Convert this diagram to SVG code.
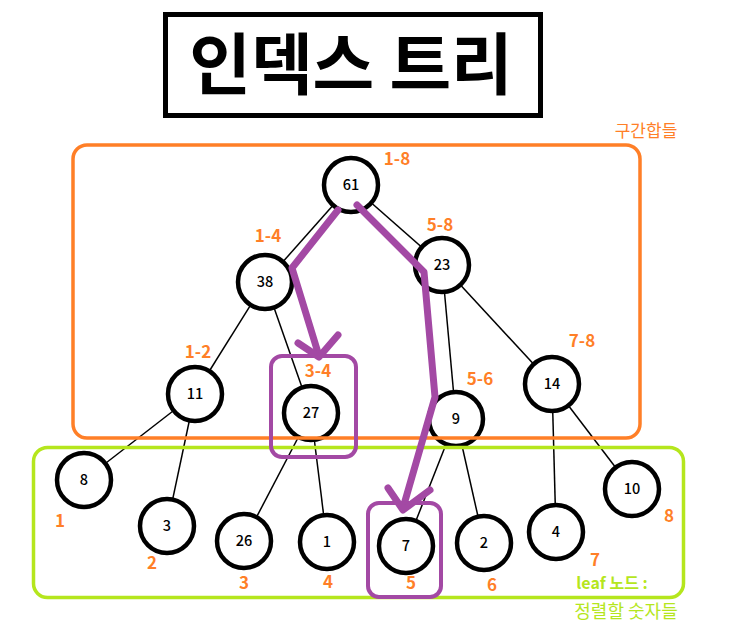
<svg xmlns="http://www.w3.org/2000/svg" width="745" height="644" viewBox="0 0 745 644">
<style>
  .node circle { fill: #fff; stroke: #000; stroke-width: 4.5; }
  .node text { font-family: "Noto Sans CJK KR", "Noto Sans", sans-serif; font-size: 14.5px; font-weight: 500; text-anchor: middle; fill: #000; }
  .edge { stroke: #000; stroke-width: 1.5; fill: none; }
  .lbl { font-family: "Noto Sans CJK KR", "Noto Sans", sans-serif; font-size: 17px; font-weight: bold; fill: #FF7F27; text-anchor: middle; }
  .hl { stroke: #A349A4; stroke-width: 7; fill: none; stroke-linecap: round; stroke-linejoin: round; }
  .hlbox { stroke: #A349A4; stroke-width: 4; fill: none; }
</style>
<rect width="745" height="644" fill="#fff"/>

<g id="title">
  <rect x="165.5" y="14.5" width="375" height="101" fill="#fff" stroke="#000" stroke-width="5"/>
  <text x="351" y="89" font-family="Noto Sans CJK KR, sans-serif" font-size="67" font-weight="bold" text-anchor="middle">인덱스 트리</text>
</g>

<g id="connectors">
  <line class="edge" x1="351" y1="185" x2="265" y2="282"/>
  <line class="edge" x1="351" y1="185" x2="442" y2="265"/>
  <line class="edge" x1="265" y1="282" x2="195" y2="394"/>
  <line class="edge" x1="265" y1="282" x2="311" y2="413"/>
  <line class="edge" x1="442" y1="265" x2="456" y2="419"/>
  <line class="edge" x1="442" y1="265" x2="552" y2="384"/>
  <line class="edge" x1="195" y1="394" x2="84" y2="480"/>
  <line class="edge" x1="195" y1="394" x2="167" y2="526"/>
  <line class="edge" x1="311" y1="413" x2="244" y2="541"/>
  <line class="edge" x1="311" y1="413" x2="327" y2="542"/>
  <line class="edge" x1="456" y1="419" x2="406" y2="546"/>
  <line class="edge" x1="456" y1="419" x2="484" y2="543"/>
  <line class="edge" x1="552" y1="384" x2="556" y2="532"/>
  <line class="edge" x1="552" y1="384" x2="632" y2="489"/>
</g>

<g id="n61" class="node"><circle cx="351" cy="185" r="27"/><text x="351" y="190">61</text></g>
<g id="n38" class="node"><circle cx="265" cy="282" r="27"/><text x="265" y="287">38</text></g>
<g id="n23" class="node"><circle cx="442" cy="265" r="27"/><text x="442" y="270">23</text></g>
<g id="n11" class="node"><circle cx="195" cy="394" r="27"/><text x="195" y="399">11</text></g>
<g id="n27" class="node"><circle cx="311" cy="413" r="27"/><text x="311" y="418">27</text></g>
<g id="n9" class="node"><circle cx="456" cy="419" r="27"/><text x="456" y="424">9</text></g>
<g id="n14" class="node"><circle cx="552" cy="384" r="27"/><text x="552" y="389">14</text></g>
<g id="n8" class="node"><circle cx="84" cy="480" r="27"/><text x="84" y="485">8</text></g>
<g id="n3" class="node"><circle cx="167" cy="526" r="27"/><text x="167" y="531">3</text></g>
<g id="n26" class="node"><circle cx="244" cy="541" r="27"/><text x="244" y="546">26</text></g>
<g id="n1" class="node"><circle cx="327" cy="542" r="27"/><text x="327" y="547">1</text></g>
<g id="n7" class="node"><circle cx="406" cy="546" r="27"/><text x="406" y="551">7</text></g>
<g id="n2" class="node"><circle cx="484" cy="543" r="27"/><text x="484" y="548">2</text></g>
<g id="n4" class="node"><circle cx="556" cy="532" r="27"/><text x="556" y="537">4</text></g>
<g id="n10" class="node"><circle cx="632" cy="489" r="27"/><text x="632" y="494">10</text></g>

<g id="range-box">
  <rect x="73" y="145" width="567" height="293" rx="14" fill="none" stroke="#FF7F27" stroke-width="3.5"/>
  <text x="646" y="137" font-family="Noto Sans CJK KR, sans-serif" font-size="17" fill="#FF7F27" text-anchor="middle">구간합들</text>
</g>
<g id="leaf-box">
  <rect x="33.5" y="447.5" width="650" height="150" rx="14" fill="none" stroke="#B5E61D" stroke-width="3.5"/>
  <text x="612" y="589" font-family="Noto Sans CJK KR, sans-serif" font-size="16" font-weight="bold" fill="#B5E61D" text-anchor="middle">leaf 노드 :</text>
  <text x="626" y="618" font-family="Noto Sans CJK KR, sans-serif" font-size="18" fill="#B5E61D" text-anchor="middle">정렬할 숫자들</text>
</g>

<g id="labels">
  <text class="lbl" x="397" y="165">1-8</text>
  <text class="lbl" x="268" y="242">1-4</text>
  <text class="lbl" x="440" y="231">5-8</text>
  <text class="lbl" x="198" y="358">1-2</text>
  <text class="lbl" x="318" y="377">3-4</text>
  <text class="lbl" x="480" y="385">5-6</text>
  <text class="lbl" x="582" y="347">7-8</text>
  <text class="lbl" x="60" y="527">1</text>
  <text class="lbl" x="152" y="569">2</text>
  <text class="lbl" x="244" y="589">3</text>
  <text class="lbl" x="328" y="588">4</text>
  <text class="lbl" x="411" y="589">5</text>
  <text class="lbl" x="492" y="591">6</text>
  <text class="lbl" x="595" y="566">7</text>
  <text class="lbl" x="669" y="522">8</text>
</g>

<g id="highlight">
  <rect class="hlbox" x="271" y="356" width="85" height="101" rx="11"/>
  <rect class="hlbox" x="368" y="503" width="73" height="94" rx="11"/>
  <path class="hl" d="M338,210 L292,268 L319,356"/>
  <path class="hl" d="M298,343 L319,357 L338,335"/>
  <path class="hl" d="M357,205 L424,272 L435,397 L403,508"/>
  <path class="hl" d="M388,488 L403,510 L430,490"/>
</g>
</svg>
